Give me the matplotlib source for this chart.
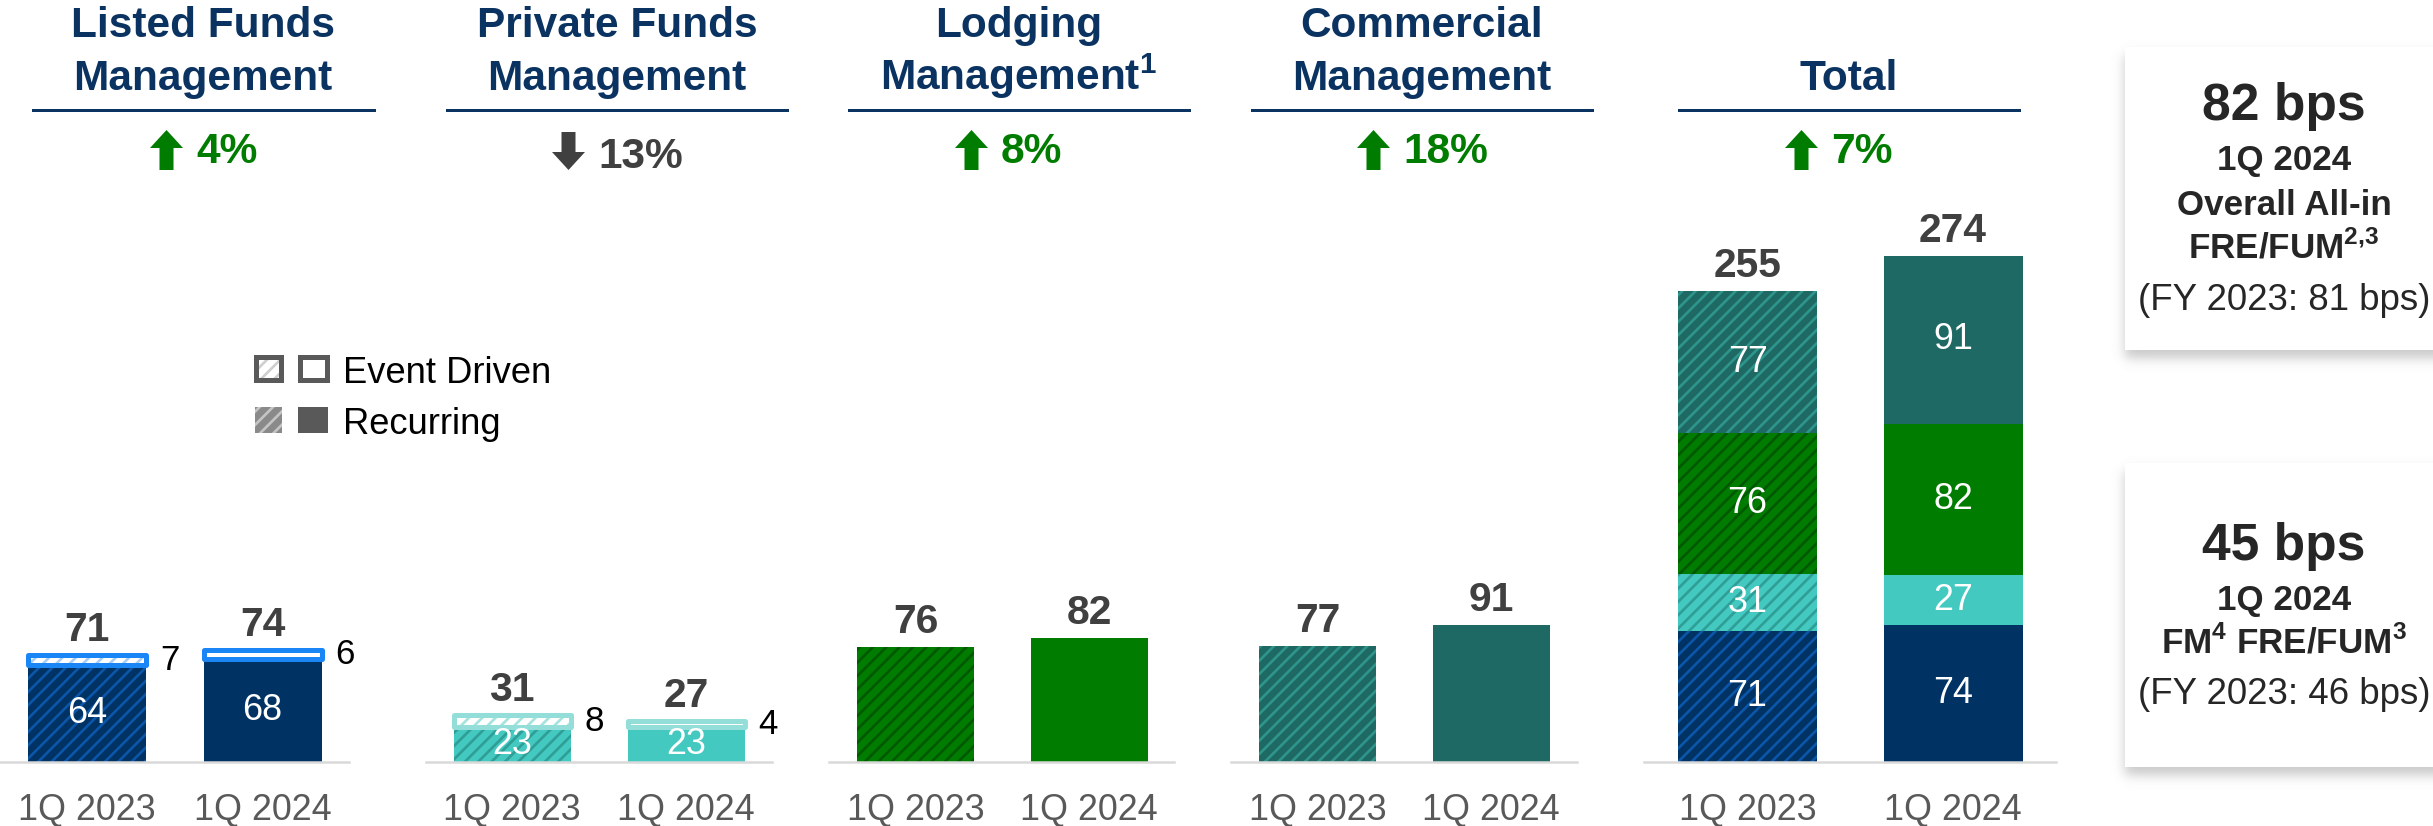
import matplotlib
matplotlib.use("Agg")
import matplotlib.pyplot as plt
import numpy as np
from matplotlib.lines import Line2D
from matplotlib.patches import Polygon, Rectangle

W, H = 2433, 826
DPI = 120

plt.rcParams["font.family"] = ["Liberation Sans", "DejaVu Sans"]
plt.rcParams["hatch.linewidth"] = 1.6
plt.rcParams["mathtext.fontset"] = "custom"
plt.rcParams["mathtext.rm"] = "Liberation Sans"
plt.rcParams["mathtext.bf"] = "Liberation Sans:bold"

# ---- data (FRE, $ millions) ----
periods = ["1Q 2023", "1Q 2024"]
listed_recurring = [64, 68]
listed_event = [7, 6]
private_recurring = [23, 23]
private_event = [8, 4]
lodging = [76, 82]
commercial = [77, 91]

headers = [
    ["Listed Funds", "Management"],
    ["Private Funds", "Management"],
    ["Lodging", r"Management$^{\mathbf{1}}$"],
    ["Commercial", "Management"],
    ["Total"],
]
box_rates = ["82 bps", "45 bps"]
box_period = "1Q 2024"
box_metrics = [["Overall All-in", r"FRE/FUM$^{\mathbf{2{,}3}}$"],
               [r"FM$^{\mathbf{4}}$ FRE/FUM$^{\mathbf{3}}$"]]
box_prior = ["(FY 2023: 81 bps)", "(FY 2023: 46 bps)"]
legend_labels = ["Event Driven", "Recurring"]

# ---- colours ----
NAVY, NAVY_STRIPE, NAVY_EDGE, NAVY_EVENT = "#003263", "#0b56a9", "#1a86f5", "#a9cdf5"
TEAL, TEAL_STRIPE, TEAL_EDGE, TEAL_EVENT = "#44c9c1", "#2e9e97", "#94ded9", "#a5e3de"
GREEN, GREEN_STRIPE = "#007d00", "#005800"
DTEAL, DTEAL_STRIPE = "#1e6963", "#2e958d"
HEAD = "#0b3361"
UP, DOWN = "#007d00", "#404040"
HATCH = "///"

BASE_Y, TOP_Y = 762, 180
SMALL_SCALE, TOTAL_SCALE = 1.51, 1.847  # px per $m


def px2pt(px):
    return px * 72.0 / DPI


fig = plt.figure(figsize=(W / DPI, H / DPI), dpi=DPI)


def panel_axes(left, right, c0, c1, scale):
    ax = fig.add_axes([left / W, 1 - BASE_Y / H, (right - left) / W, (BASE_Y - TOP_Y) / H])
    s = c1 - c0
    ax.set_xlim((left - c0) / s, (right - c0) / s)
    ax.set_ylim(0, (BASE_Y - TOP_Y) / scale)
    for side in ("top", "left", "right"):
        ax.spines[side].set_visible(False)
    ax.spines["bottom"].set_color("#d9d9d9")
    ax.spines["bottom"].set_linewidth(px2pt(2.5))
    ax.set_xticks([])
    ax.set_yticks([])
    ax.patch.set_alpha(0)
    return ax, s


def bar(ax, x, h, w, bottom, color, stripe, hatched):
    ax.bar(x, h, w, bottom=bottom, color=color,
           edgecolor=stripe if hatched else color,
           hatch=HATCH if hatched else None, linewidth=0)


def value_on_top(ax, x, top, size=24.5):
    ax.annotate(f"{top}", xy=(x, top), xytext=(0, px2pt(14)), textcoords="offset points",
                ha="center", va="baseline", fontsize=size, fontweight="bold",
                color="#404040", annotation_clip=False)


def inner_label(ax, x, y, v):
    ax.text(x, y, f"{v}", ha="center", va="center", fontsize=21.5, color="white")


def period_labels(ax):
    for i, p in enumerate(periods):
        ax.annotate(p, xy=(i, 0), xytext=(0, -px2pt(58)), textcoords="offset points",
                    ha="center", va="baseline", fontsize=21.5, color="#595959",
                    annotation_clip=False)


def split_panel(geom, recurring, event, color, stripe, edge, ev_stripe):
    ax, s = panel_axes(*geom[:4], SMALL_SCALE)
    w = geom[4] / s
    for i, (r, e) in enumerate(zip(recurring, event)):
        hatched = i == 0
        bar(ax, i, r, w, 0, color, stripe, hatched)
        bar(ax, i, e, w, r, "white", ev_stripe, hatched)
        ax.bar(i, e, w, bottom=r, facecolor="none", edgecolor=edge,
               linewidth=px2pt(5), joinstyle="round")
        inner_label(ax, i, r / 2, r)
        ax.annotate(f"{e}", xy=(i + w / 2, r + e / 2), xytext=(px2pt(14), 0),
                    textcoords="offset points", ha="left", va="center",
                    fontsize=21, color="black", annotation_clip=False)
        value_on_top(ax, i, r + e)
    period_labels(ax)


def single_panel(geom, values, color, stripe):
    ax, s = panel_axes(*geom[:4], SMALL_SCALE)
    w = geom[4] / s
    for i, v in enumerate(values):
        bar(ax, i, v, w, 0, color, stripe, i == 0)
        value_on_top(ax, i, v)
    period_labels(ax)


# panel geometry in px: baseline left/right, bar centres, bar width
split_panel((0, 349, 87, 262.5, 118), listed_recurring, listed_event,
            NAVY, NAVY_STRIPE, NAVY_EDGE, NAVY_EVENT)
split_panel((426, 772, 512, 686, 117), private_recurring, private_event,
            TEAL, TEAL_STRIPE, TEAL_EDGE, TEAL_EVENT)
single_panel((829, 1174, 915.5, 1089, 117), lodging, GREEN, GREEN_STRIPE)
single_panel((1231, 1577, 1317.5, 1491, 117), commercial, DTEAL, DTEAL_STRIPE)

# total stacked panel
listed_total = [r + e for r, e in zip(listed_recurring, listed_event)]
private_total = [r + e for r, e in zip(private_recurring, private_event)]
stack = [(listed_total, NAVY, NAVY_STRIPE), (private_total, TEAL, TEAL_STRIPE),
         (lodging, GREEN, GREEN_STRIPE), (commercial, DTEAL, DTEAL_STRIPE)]
ax_t, s_t = panel_axes(1644, 2056, 1747.5, 1953, TOTAL_SCALE)
w_t = 139 / s_t
for i in range(len(periods)):
    bottom = 0
    for vals, color, stripe in stack:
        bar(ax_t, i, vals[i], w_t, bottom, color, stripe, i == 0)
        inner_label(ax_t, i, bottom + vals[i] / 2, vals[i])
        bottom += vals[i]
    value_on_top(ax_t, i, bottom)
period_labels(ax_t)
grand_total = [sum(v[0][i] for v in stack) for i in range(len(periods))]

# ---- overlay in pixel coordinates: headers, legend, side boxes ----
ov = fig.add_axes([0, 0, 1, 1], zorder=5)
ov.set_xlim(0, W)
ov.set_ylim(H, 0)
ov.axis("off")

header_x = [203, 617, 1019, 1422, 1849]
underline = [(33, 374), (447, 787), (849, 1189), (1252, 1592), (1679, 2019)]
arrow_left = [150, 552, 955, 1357, 1785]
series_pairs = [listed_total, private_total, lodging, commercial, grand_total]

for lines, cx, (u0, u1), ax0, pair in zip(headers, header_x, underline, arrow_left, series_pairs):
    baselines = [37, 90] if len(lines) == 2 else [90]
    for txt, by in zip(lines, baselines):
        ov.text(cx, by, txt, ha="center", va="baseline", fontsize=25.4,
                fontweight="bold", color=HEAD)
    ov.add_line(Line2D([u0, u1], [110, 110], color=HEAD, linewidth=px2pt(3)))

    pct = (pair[1] - pair[0]) / pair[0] * 100
    up = pct >= 0
    col = UP if up else DOWN
    c = ax0 + 16.5
    if up:
        pts = [(c, 130), (c + 16.5, 148), (c + 7, 148), (c + 7, 170),
               (c - 7, 170), (c - 7, 148), (c - 16.5, 148)]
        by = 163
    else:
        pts = [(c, 170), (c + 16.5, 152), (c + 7, 152), (c + 7, 132),
               (c - 7, 132), (c - 7, 152), (c - 16.5, 152)]
        by = 168
    ov.add_patch(Polygon(pts, closed=True, facecolor=col, edgecolor="none"))
    ov.text(ax0 + 46, by, f"{abs(pct):.0f}%", ha="left", va="baseline",
            fontsize=25.5, fontweight="bold", color=col)

# legend
GREY = "#595959"
ov.add_patch(Rectangle((255.5, 356.5), 25, 23, facecolor="white", edgecolor="#cfcfcf",
                       hatch=HATCH, linewidth=0))
ov.add_patch(Rectangle((255.5, 356.5), 25, 23, facecolor="none", edgecolor=GREY,
                       linewidth=px2pt(5)))
ov.add_patch(Rectangle((299.5, 356.5), 27, 23, facecolor="white", edgecolor=GREY,
                       linewidth=px2pt(5)))
ov.add_patch(Rectangle((255, 407), 27, 26, facecolor="#8a8a8a", edgecolor="#c4c4c4",
                       hatch=HATCH, linewidth=0))
ov.add_patch(Rectangle((298, 407), 30, 26, facecolor=GREY, edgecolor="none"))
ov.text(343, 383, legend_labels[0], ha="left", va="baseline", fontsize=21.8, color="black")
ov.text(343, 434, legend_labels[1], ha="left", va="baseline", fontsize=21.8, color="black")


def soft_shadow(x0, y0, x1, y1, dy=8, blur=7.0, strength=0.33):
    pad = 40
    gx = np.arange(x0 - pad, x1 + pad) + 0.5
    gy = np.arange(y0 - pad, y1 + pad) + 0.5
    mx = 0.5 * (np.tanh((gx - x0) / blur) - np.tanh((gx - x1) / blur))
    my = 0.5 * (np.tanh((gy - y0 - dy) / blur) - np.tanh((gy - y1 - dy) / blur))
    rgba = np.zeros((len(gy), len(gx), 4))
    rgba[..., :3] = 0.35
    rgba[..., 3] = np.outer(my, mx) * strength
    ov.imshow(rgba, extent=(x0 - pad, x1 + pad, y1 + pad, y0 - pad),
              aspect="auto", interpolation="bilinear", zorder=1)


boxes = [(2125, 47, 2460, 350), (2125, 463, 2460, 767)]
for (x0, y0, x1, y1) in boxes:
    soft_shadow(x0, y0, x1, y1)
    ov.add_patch(Rectangle((x0, y0), x1 - x0, y1 - y0, facecolor="white",
                           edgecolor="none", zorder=2))

BOX_CX = 2284
TXT = "#262626"
# upper box
ov.text(BOX_CX, 120, box_rates[0], ha="center", va="baseline", fontsize=31,
        fontweight="bold", color=TXT, zorder=3)
ov.text(BOX_CX, 170, box_period, ha="center", va="baseline", fontsize=21,
        fontweight="bold", color=TXT, zorder=3)
ov.text(BOX_CX, 215, box_metrics[0][0], ha="center", va="baseline", fontsize=21,
        fontweight="bold", color=TXT, zorder=3)
ov.text(BOX_CX, 258, box_metrics[0][1], ha="center", va="baseline", fontsize=21,
        fontweight="bold", color=TXT, zorder=3)
ov.text(BOX_CX, 310, box_prior[0], ha="center", va="baseline", fontsize=22,
        color=TXT, zorder=3)
# lower box
ov.text(BOX_CX, 560, box_rates[1], ha="center", va="baseline", fontsize=31,
        fontweight="bold", color=TXT, zorder=3)
ov.text(BOX_CX, 610, box_period, ha="center", va="baseline", fontsize=21,
        fontweight="bold", color=TXT, zorder=3)
ov.text(BOX_CX, 653, box_metrics[1][0], ha="center", va="baseline", fontsize=21,
        fontweight="bold", color=TXT, zorder=3)
ov.text(BOX_CX, 704, box_prior[1], ha="center", va="baseline", fontsize=22,
        color=TXT, zorder=3)

ov.set_xlim(0, W)
ov.set_ylim(H, 0)

fig.savefig("out.png", dpi=DPI)
